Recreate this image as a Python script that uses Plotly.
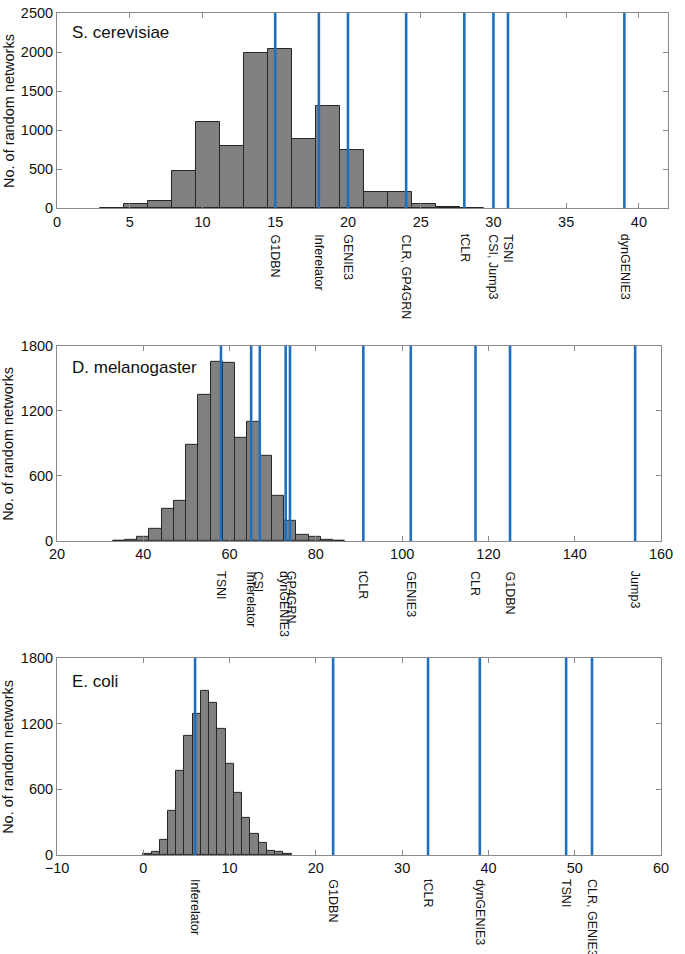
import plotly.graph_objects as go

# ---------------- data ----------------
# S. cerevisiae histogram
sc_bin_start = 2.95
sc_bin_width = 1.65
sc_counts = [8, 55, 90, 480, 1110, 800, 1990, 2040, 880, 1310, 750, 205, 205, 50, 10, 5]
sc_methods = ["G1DBN", "Inferelator", "GENIE3", "CLR, GP4GRN", "tCLR", "CSI, Jump3", "TSNI", "dynGENIE3"]
sc_values = [15, 18, 20, 24, 28, 30, 31, 39]

# D. melanogaster histogram
dm_bin_start = 32.9
dm_bin_width = 2.84
dm_counts = [3, 10, 37, 116, 301, 372, 886, 1349, 1650, 1641, 953, 1099, 782, 420, 189, 58, 40, 10, 3]
dm_methods = ["TSNI", "CSI", "Inferelator", "GP4GRN", "dynGENIE3", "tCLR", "GENIE3", "CLR", "G1DBN", "Jump3"]
dm_values = [58, 65, 67, 73, 74, 91, 102, 117, 125, 154]

# E. coli histogram
ec_bin_start = 0.0
ec_bin_width = 0.955
ec_counts = [6, 30, 136, 407, 769, 1092, 1288, 1502, 1388, 1155, 830, 570, 335, 193, 111, 42, 24, 8]
ec_methods = ["Inferelator", "G1DBN", "tCLR", "dynGENIE3", "TSNI", "CLR, GENIE3"]
ec_values = [6, 22, 33, 39, 49, 52]

species = ["S. cerevisiae", "D. melanogaster", "E. coli"]
y_title = "No. of random networks"

# ---------------- styling ----------------
FONT = "Liberation Sans, Arial, Helvetica, sans-serif"
BAR_FILL = "#808080"
BAR_EDGE = "#262626"
LINE_BLUE = "#1f6fc1"
AXIS_GRAY = "#8a8a8a"

panels = [
    dict(start=sc_bin_start, width=sc_bin_width, counts=sc_counts, methods=sc_methods, values=sc_values,
         xrange=[0, 42], xdtick=5, xtick0=0, yrange=[0, 2500], ydtick=500,
         ydomain=[0.7682, 1.0], xdomain=[0, 1.0], label_shift=-24, xshift={}),
    dict(start=dm_bin_start, width=dm_bin_width, counts=dm_counts, methods=dm_methods, values=dm_values,
         xrange=[20, 160], xdtick=20, xtick0=20, yrange=[0, 1800], ydtick=600,
         ydomain=[0.3729, 0.6047], xdomain=[0, 0.9886], label_shift=-28,
         xshift={"CSI": 7, "Inferelator": -9, "GP4GRN": 6, "dynGENIE3": -6}),
    dict(start=ec_bin_start, width=ec_bin_width, counts=ec_counts, methods=ec_methods, values=ec_values,
         xrange=[-10, 60], xdtick=10, xtick0=-10, yrange=[0, 1800], ydtick=600,
         ydomain=[0.0, 0.2341], xdomain=[0, 0.9886], label_shift=-22, xshift={}),
]

fig = go.Figure()
annotations = []
shapes = []

for i, p in enumerate(panels):
    n = i + 1
    xa = "x" if n == 1 else f"x{n}"
    ya = "y" if n == 1 else f"y{n}"
    centers = [p["start"] + p["width"] * (k + 0.5) for k in range(len(p["counts"]))]
    fig.add_trace(go.Bar(
        x=centers, y=p["counts"], width=p["width"],
        marker=dict(color=BAR_FILL, line=dict(color=BAR_EDGE, width=1)),
        xaxis=xa, yaxis=ya, showlegend=False, hoverinfo="x+y",
    ))
    for m, v in zip(p["methods"], p["values"]):
        shapes.append(dict(type="line", xref=xa, yref=f"{ya} domain", x0=v, x1=v, y0=0, y1=1,
                           line=dict(color=LINE_BLUE, width=2.6), layer="above"))
        annotations.append(dict(
            x=v, xref=xa, y=0, yref=f"{ya} domain", text=m, showarrow=False,
            textangle=90, xanchor="center", yanchor="top", yshift=p["label_shift"],
            xshift=p["xshift"].get(m, 0),
            font=dict(family=FONT, size=12.5, color="#111111"),
        ))
    # species title
    annotations.append(dict(
        x=0.022, xref="paper", y=[0.898, 0.888, 0.879][i], yref=f"{ya} domain",
        text=species[i], showarrow=False, xanchor="left", yanchor="middle",
        font=dict(family=FONT, size=17, color="#111111"),
    ))
    # y-axis title
    annotations.append(dict(
        x=-0.0795, xref="paper", y=0.5, yref=f"{ya} domain", text=y_title, showarrow=False,
        textangle=-90, xanchor="center", yanchor="middle",
        font=dict(family=FONT, size=14.5, color="#111111"),
    ))

    axis_common = dict(showline=True, linecolor=AXIS_GRAY, linewidth=1, mirror="ticks",
                       ticks="inside", ticklen=5, tickcolor=AXIS_GRAY, tickwidth=1,
                       showgrid=False, zeroline=False,
                       tickfont=dict(family=FONT, size=14.5, color="#111111"))
    xkey = "xaxis" if n == 1 else f"xaxis{n}"
    ykey = "yaxis" if n == 1 else f"yaxis{n}"
    fig.update_layout(**{
        xkey: dict(axis_common, range=p["xrange"], dtick=p["xdtick"], tick0=p["xtick0"],
                   domain=p["xdomain"], anchor=ya),
        ykey: dict(axis_common, range=p["yrange"], dtick=p["ydtick"], tick0=0,
                   domain=p["ydomain"], anchor=xa),
    })

fig.update_layout(
    width=685, height=954,
    margin=dict(l=57, r=12, t=5, b=99),
    paper_bgcolor="white", plot_bgcolor="white",
    bargap=0, showlegend=False,
    annotations=annotations, shapes=shapes,
    font=dict(family=FONT),
)

fig.write_html(
    "out.html",
    config={"displayModeBar": False},
    post_script="document.body.style.margin='0px';document.body.style.overflow='hidden';",
)
